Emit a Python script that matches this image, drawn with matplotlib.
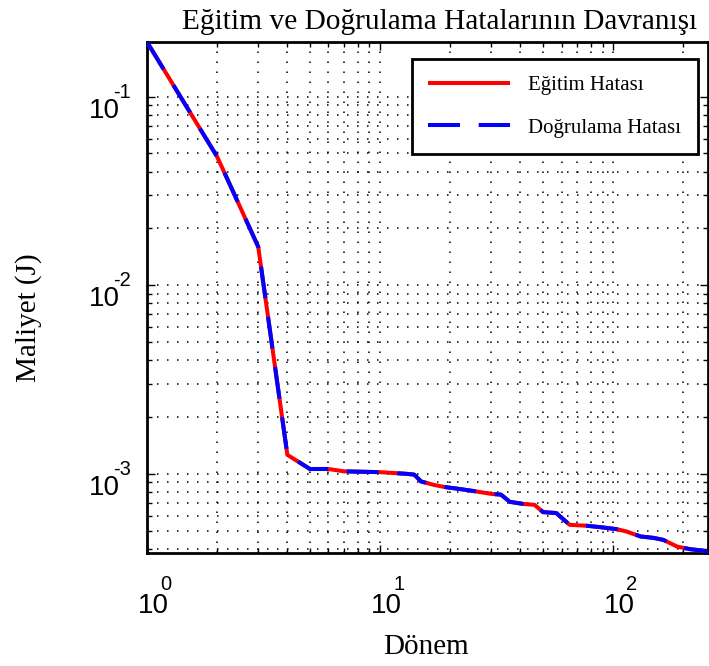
import numpy as np
import matplotlib
matplotlib.use("Agg")
import matplotlib.pyplot as plt
from matplotlib.ticker import FixedLocator, LogLocator, NullFormatter
from matplotlib.transforms import ScaledTranslation

# ---- data ----
epochs = [1, 2, 3, 4, 5, 6, 7, 10, 13, 14, 15, 17, 19, 22, 26, 30, 33, 36, 41,
          46, 50, 57, 65, 77, 88, 104, 114, 131, 149, 164, 188, 214, 244, 255]
train_cost = [0.195, 0.048, 0.016, 0.00126, 0.00106, 0.00106, 0.00103, 0.00102,
              0.000999, 0.00099, 0.00091, 0.000873, 0.00085, 0.00083, 0.000805,
              0.000782, 0.000775, 0.00071, 0.000692, 0.000684, 0.000626, 0.000619,
              0.000536, 0.00053, 0.000521, 0.000508, 0.000494, 0.000465, 0.000457,
              0.000446, 0.000411, 0.000398, 0.000391, 0.000378]
val_cost = [0.195, 0.048, 0.016, 0.00126, 0.00106, 0.00106, 0.00103, 0.00102,
            0.000999, 0.00099, 0.00091, 0.000873, 0.00085, 0.00083, 0.000805,
            0.000782, 0.000775, 0.00071, 0.000692, 0.000684, 0.000626, 0.000619,
            0.000536, 0.00053, 0.000521, 0.000508, 0.000494, 0.000465, 0.000457,
            0.000446, 0.000411, 0.000398, 0.000391, 0.000378]
series_labels = ["Eğitim Hatası", "Doğrulama Hatası"]
title = "Eğitim ve Doğrulama Hatalarının Davranışı"
xlabel = "Dönem"
ylabel = "Maliyet (J)"
xticks = [1, 10, 100]
xtick_exp = ["0", "1", "2"]
yticks = [1e-3, 1e-2, 1e-1]
ytick_exp = ["-3", "-2", "-1"]

plt.rcParams['lines.scale_dashes'] = False
plt.rcParams['font.family'] = ['Liberation Serif', 'DejaVu Serif']
SANS = ['Liberation Sans', 'DejaVu Sans']

W, H = 709, 666
fig = plt.figure(figsize=(W / 100, H / 100), dpi=100)
ax = fig.add_axes([147 / W, 1 - 553 / H, 561 / W, 511 / H])
ax.set_xscale('log')
ax.set_yscale('log')
ax.set_xlim(1, 255)
ax.set_ylim(3.8e-4, 0.195)

ax.plot(epochs, train_cost, color='#ff0000', lw=2.9, solid_capstyle='butt',
        label=series_labels[0], zorder=3)
ax.plot(epochs, val_cost, color='#0000ff', lw=2.9, linestyle=(0, (23, 13.5)),
        dash_capstyle='butt', label=series_labels[1], zorder=4)

ax.grid(True, which='both', color='black', linestyle=(0, (1.1, 6.1)), linewidth=1.1)

ax.xaxis.set_major_locator(FixedLocator(xticks))
ax.yaxis.set_major_locator(FixedLocator(yticks))
ax.xaxis.set_minor_locator(LogLocator(base=10, subs=np.arange(2, 10)))
ax.yaxis.set_minor_locator(LogLocator(base=10, subs=np.arange(2, 10)))
for a in (ax.xaxis, ax.yaxis):
    a.set_major_formatter(NullFormatter())
    a.set_minor_formatter(NullFormatter())

ax.tick_params(which='both', direction='in', top=True, right=True, width=1, color='black')
ax.tick_params(which='major', length=6)
ax.tick_params(which='minor', length=3.5)
for sp in ax.spines.values():
    sp.set_linewidth(2.0)
    sp.set_color('black')

# MATLAB-style "10" + raised exponent tick labels
px = 72 / 100.0  # points per pixel


def off(dx, dy):
    return ScaledTranslation(dx * px / 72, dy * px / 72, fig.dpi_scale_trans)


for t, e in zip(xticks, xtick_exp):
    ax.text(t, 0, "10", transform=ax.get_xaxis_transform() + off(-9, -60),
            ha='left', va='baseline', fontsize=20, family=SANS, clip_on=False)
    ax.text(t, 0, e, transform=ax.get_xaxis_transform() + off(13, -37),
            ha='left', va='baseline', fontsize=14.5, family=SANS, clip_on=False)
for t, e in zip(yticks, ytick_exp):
    ax.text(0, t, "10", transform=ax.get_yaxis_transform() + off(-27, -21),
            ha='right', va='baseline', fontsize=20, family=SANS, clip_on=False)
    ax.text(0, t, e, transform=ax.get_yaxis_transform() + off(-34, -1),
            ha='left', va='baseline', fontsize=14.5, family=SANS, clip_on=False)

fig.text(440 / W, 1 - 29 / H, title, ha='center', va='baseline', fontsize=21.2)
fig.text(426 / W, 1 - 654 / H, xlabel, ha='center', va='baseline', fontsize=21)
fig.text(29 / W, 1 - 318 / H, ylabel, ha='center', va='center', rotation=90, fontsize=21)

leg = ax.legend(loc='upper left', bbox_to_anchor=(411.7 / W, 1 - 59 / H),
                bbox_transform=fig.transFigure, fontsize=15, frameon=True,
                fancybox=False, edgecolor='black', framealpha=1, handlelength=3.9,
                handletextpad=0.9, borderpad=0.8, labelspacing=1.1, borderaxespad=0)
leg.get_frame().set_linewidth(2.0)

fig.savefig('out.png', dpi=100)
